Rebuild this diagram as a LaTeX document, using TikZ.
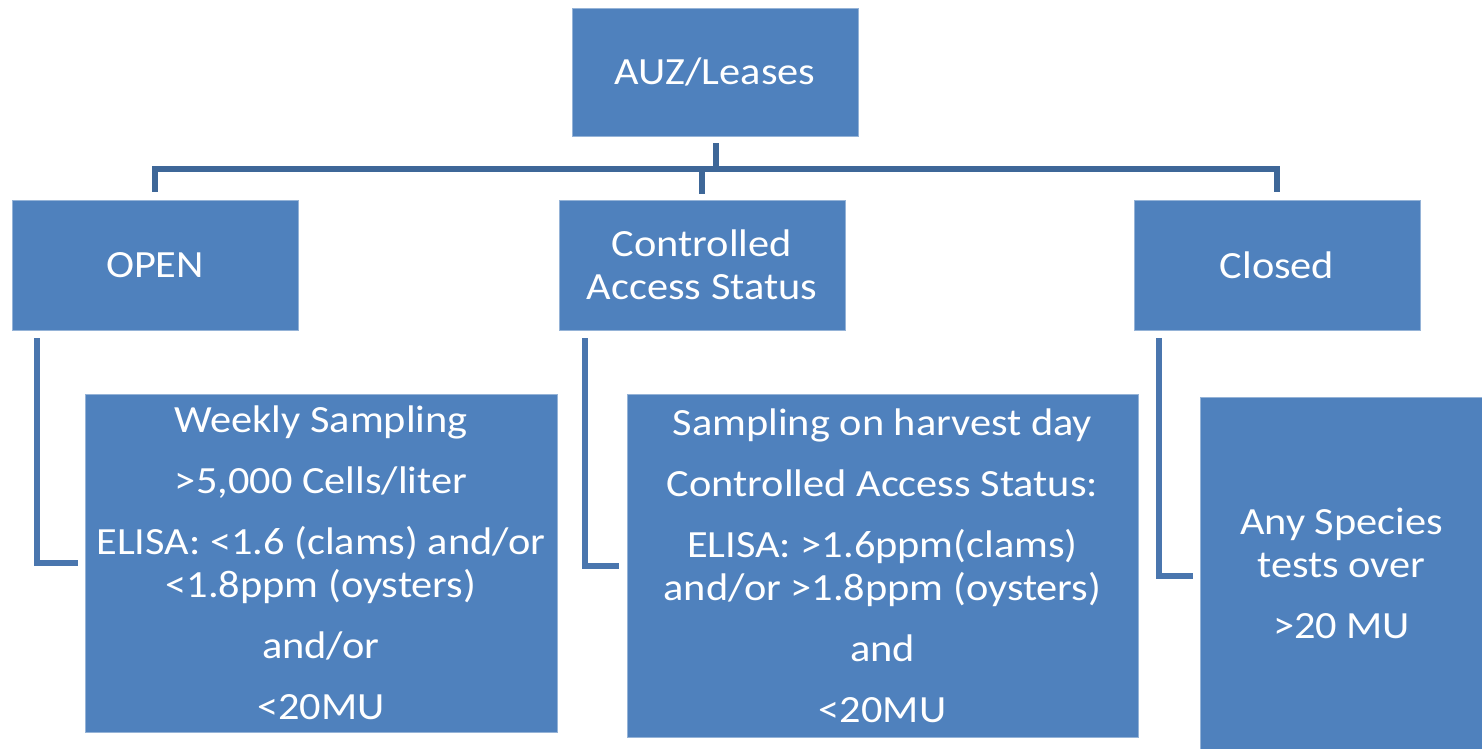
\documentclass[tikz,border=0pt]{standalone}
\usepackage{fontspec}
\setmainfont{Carlito}[FakeStretch=1.1]
\definecolor{boxblue}{HTML}{4F81BD}
\definecolor{busblue}{HTML}{3E6798}
\definecolor{connblue}{HTML}{4A76AE}
\begin{document}
\begin{tikzpicture}[x=1pt,y=-1pt,
  box/.style={rectangle,fill=boxblue,draw=boxblue!60!white,line width=0.8pt,
    text=white,align=center,inner sep=0pt,
    font=\fontsize{38.5}{43}\selectfont},
  bus/.style={busblue,line width=6.5pt,line join=miter,line cap=butt},
  conn/.style={connblue,line width=6pt,line join=miter,line cap=butt}]
\useasboundingbox (0,0) rectangle (1482,749);
% top
\node[box,minimum width=286pt,minimum height=128pt] (auz) at (715,72) {AUZ/Leases};
% level 2
\node[box,minimum width=286pt,minimum height=130pt] (open) at (155,265) {OPEN};
\node[box,minimum width=286pt,minimum height=130pt] (cas) at (702,265) {Controlled\\Access Status};
\node[box,minimum width=286pt,minimum height=130pt] (closed) at (1277,265) {Closed};
% level 3
\node[box,minimum width=472pt,minimum height=338pt] (b1) at (321,563)
  {Weekly Sampling\\[18pt] >5,000 Cells/liter\\[18pt] ELISA: <1.6 (clams) and/or\\ <1.8ppm (oysters)\\[18pt] and/or\\[18pt] <20MU};
\node[box,minimum width=511pt,minimum height=343pt] (b2) at (882.5,565.5)
  {Sampling on harvest day\\[18pt] Controlled Access Status:\\[18pt] ELISA: >1.6ppm(clams)\\ and/or >1.8ppm (oysters)\\[18pt] and\\[18pt] <20MU};
\node[box,minimum width=283pt,minimum height=353pt] (b3) at (1341.5,573.5)
  {Any Species\\ tests over\\[18pt] >20 MU};
% bus connectors
\coordinate (bus) at (716,169);
\draw[bus] ([xshift=1pt,yshift=-7pt]auz.south) -- (bus);
\draw[bus] ([yshift=8pt]open.north) |- (bus) -| ([yshift=8pt]closed.north);
\draw[bus] ([yshift=6pt]cas.north) -- (cas.north |- bus);
% lower connectors
\draw[conn] ([xshift=25pt,yshift=-8pt]open.south west) |- ([xshift=-7pt]b1.west);
\draw[conn] ([xshift=26pt,yshift=-8pt]cas.south west) |- ([xshift=-8pt]b2.west);
\draw[conn] ([xshift=25pt,yshift=-8pt]closed.south west) |- ([xshift=-7pt,yshift=-2pt]b3.west);
\end{tikzpicture}
\end{document}
